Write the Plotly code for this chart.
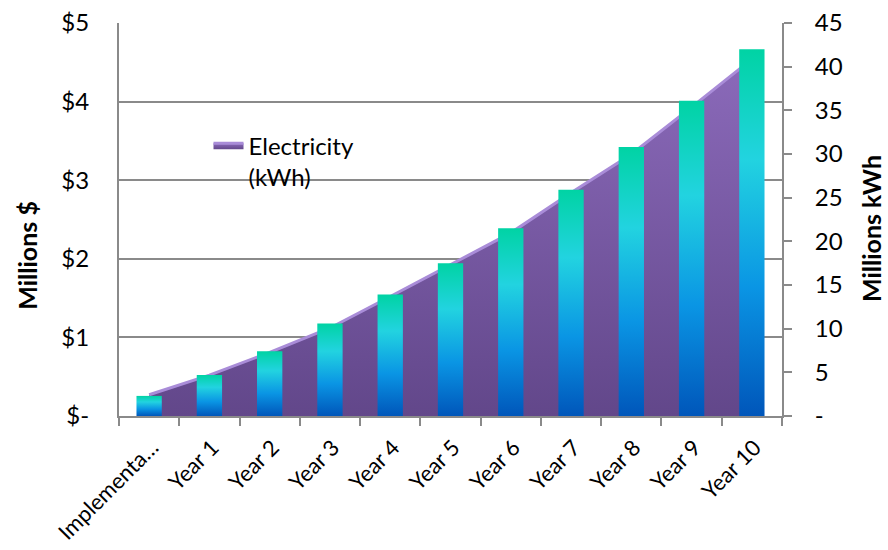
import plotly.graph_objects as go

# ---- data ----
categories = ["Implementa…", "Year 1", "Year 2", "Year 3", "Year 4", "Year 5",
              "Year 6", "Year 7", "Year 8", "Year 9", "Year 10"]
cost_millions_usd = [0.27, 0.52, 0.81, 1.12, 1.52, 1.92, 2.33, 2.84, 3.33, 3.93, 4.54]
kwh_millions = [2.3, 4.7, 7.4, 10.6, 13.9, 17.5, 21.5, 25.9, 30.8, 36.1, 42.0]

left_tickvals = [0, 1, 2, 3, 4, 5]
left_ticktext = ["$-", "$1", "$2", "$3", "$4", "$5"]
right_tickvals = [0, 5, 10, 15, 20, 25, 30, 35, 40, 45]
right_ticktext = ["-", "5", "10", "15", "20", "25", "30", "35", "40", "45"]

series_name = "Electricity<br>(kWh)"
left_title = "Millions $"
right_title = "Millions kWh"

# ---- styles ----
FONT = "Lato"
AXIS_GREY = "#8A8A8A"
AREA_SCALE = [[0, "#62478A"], [1, "#8B6ABA"]]
AREA_EDGE = "#A98CD8"
BAR_SCALE = [[0, "#0056BA"], [0.35, "#0A95E4"], [0.7, "#22D3E0"], [1, "#00D3A4"]]
BAR_HALF_WIDTH = 0.21

x_idx = list(range(len(categories)))

fig = go.Figure()

fig.add_trace(go.Scatter(
    x=x_idx, y=cost_millions_usd, name=series_name,
    mode="lines", fill="tozeroy",
    line=dict(color=AREA_EDGE, width=3),
    fillgradient=dict(type="vertical", colorscale=AREA_SCALE,
                      start=0, stop=max(cost_millions_usd)),
    yaxis="y", hoverinfo="skip",
))

for i, v in enumerate(kwh_millions):
    fig.add_trace(go.Scatter(
        x=[i - BAR_HALF_WIDTH, i - BAR_HALF_WIDTH, i + BAR_HALF_WIDTH, i + BAR_HALF_WIDTH],
        y=[0, v, v, 0],
        mode="lines", fill="toself", line=dict(width=0),
        fillgradient=dict(type="vertical", colorscale=BAR_SCALE, start=0, stop=v),
        yaxis="y2", showlegend=False, name=categories[i],
    ))

fig.update_layout(
    width=888, height=550,
    margin=dict(l=119, r=106, t=23, b=134, autoexpand=False),
    paper_bgcolor="white", plot_bgcolor="white",
    font=dict(family=FONT, size=24, color="black"),
    showlegend=True,
    legend=dict(x=0.135, y=0.745, xanchor="left", yanchor="top",
                bgcolor="rgba(0,0,0,0)", valign="top", itemwidth=30,
                font=dict(size=24)),
    xaxis=dict(
        range=[-0.5, len(categories) - 0.5], automargin=False,
        tickmode="array", tickvals=x_idx, ticktext=categories,
        tickangle=-45, ticks="", showgrid=False, zeroline=False,
        showline=True, linecolor=AXIS_GREY, linewidth=2,
        minor=dict(tickmode="linear", tick0=-0.5, dtick=1, ticks="outside",
                   ticklen=8, tickcolor=AXIS_GREY, tickwidth=2, showgrid=False),
        tickfont=dict(size=22),
        ticklabelstandoff=8, ticklabelshift=3,
    ),
    yaxis=dict(
        range=[0, 5], automargin=False,
        tickmode="array", tickvals=left_tickvals, ticktext=left_ticktext,
        showgrid=True, gridcolor=AXIS_GREY, gridwidth=1.5, zeroline=False,
        showline=True, linecolor=AXIS_GREY, linewidth=2, ticks="",
        ticklabelstandoff=23,
    ),
    yaxis2=dict(
        range=[0, 45], overlaying="y", side="right", automargin=False,
        tickmode="array", tickvals=right_tickvals, ticktext=right_ticktext,
        showgrid=False, zeroline=False,
        showline=True, linecolor=AXIS_GREY, linewidth=2,
        ticks="outside", ticklen=8, tickcolor=AXIS_GREY, tickwidth=2,
        ticklabelstandoff=18,
    ),
    annotations=[
        dict(text=left_title, xref="paper", yref="paper", x=-0.139, y=0.41,
             xanchor="center", yanchor="middle", textangle=-90, showarrow=False,
             font=dict(size=25, weight="bold")),
        dict(text=right_title, xref="paper", yref="paper", x=1.134, y=0.478,
             xanchor="center", yanchor="middle", textangle=-90, showarrow=False,
             font=dict(size=25, weight="bold")),
    ],
)

fig.write_html("out.html")
